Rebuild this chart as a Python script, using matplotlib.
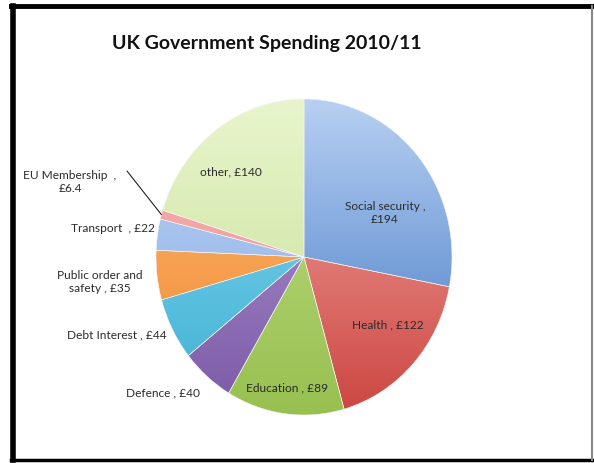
#!/usr/bin/env python3
"""UK Government Spending 2010/11 pie, Excel-style gradient slices."""
import numpy as np
import matplotlib; matplotlib.use("Agg")
import matplotlib.pyplot as plt
from matplotlib.colors import LinearSegmentedColormap
from matplotlib.lines import Line2D

plt.rcParams["font.family"] = ["Lato", "DejaVu Sans"]

categories = ["Social security", "Health", "Education", "Defence", "Debt Interest",
              "Public order and\nsafety", "Transport", "EU Membership", "other"]
spending = [194, 122, 89, 40, 44, 35, 22, 6.4, 140]
label_text = ["Social security ,\n£194", "Health , £122", "Education , £89", "Defence , £40",
              "Debt Interest , £44", "Public order and\nsafety , £35", "Transport  , £22",
              "EU Membership  ,\n£6.4", "other, £140"]

# (top colour, bottom colour) for each slice gradient
grad = [("#b8d0f2", "#3e76c4"), ("#f5aca7", "#cc4641"), ("#c0de88", "#98c050"),
        ("#b89ad6", "#7a5aa6"), ("#86d8f0", "#3fb0d4"), ("#fbb877", "#f28a2e"),
        ("#b6cff3", "#8fb0e6"), ("#f8b4b4", "#ee9090"), ("#e8f5cc", "#c6df94")]
# label positions in image pixels (x, y from top)
lab_pos = [(385, 213), (388, 325), (287, 388), (163, 393), (117, 335),
           (100, 282), (113, 229), (70, 182), (231, 172)]

W, H = 594, 464
fig = plt.figure(figsize=(W/100, H/100), dpi=100)
fig.patch.set_facecolor("white")

# pie centre ~ (304,258), rx 148, ry 158 px
cx, cy, rx, ry = 304, 258, 148, 158
ax = fig.add_axes([(cx-rx)/W, (H-cy-ry)/H, 2*rx/W, 2*ry/H])
wedges, _ = ax.pie(spending, startangle=90, counterclock=False, radius=1,
                   wedgeprops=dict(linewidth=0.4, edgecolor="#f4f4f4"))
ax.set_aspect("auto"); ax.set_xlim(-1, 1); ax.set_ylim(-1, 1); ax.axis("off")

yy = np.linspace(1, 0, 256).reshape(-1, 1)
for w, (top, bot) in zip(wedges, grad):
    cmap = LinearSegmentedColormap.from_list("g", [bot, top])
    im = ax.imshow(yy, cmap=cmap, extent=(-1, 1, -1, 1), aspect="auto", zorder=1)
    im.set_clip_path(w)
    w.set_facecolor("none"); w.set_zorder(2)
ax.set_xlim(-1, 1); ax.set_ylim(-1, 1)

for t, (x, y) in zip(label_text, lab_pos):
    fig.text(x/W, 1-y/H, t, ha="center", va="center", fontsize=8.6, color="#2b2b2b",
             linespacing=1.3)

# leader line for EU Membership
eu = wedges[7]
th = np.deg2rad((eu.theta1 + eu.theta2)/2)
ax.annotate("", xy=(np.cos(th), np.sin(th)), xycoords="data",
            xytext=(127, H-172), textcoords="figure pixels",
            arrowprops=dict(arrowstyle="-", color="#222222", lw=0.8, shrinkA=0, shrinkB=0))

fig.text(267/W, 1-44/H, "UK Government Spending 2010/11", ha="center", va="center",
         fontsize=14, fontweight="bold", color="#111111")

# chart frame
fig.add_artist(Line2D([13/W, 13/W], [1-7/H, 1-461/H], color="black", lw=4))
fig.add_artist(Line2D([11/W, 593/W], [1-7/H, 1-7/H], color="black", lw=3.5))
fig.add_artist(Line2D([11/W, 593/W], [1-461/H, 1-461/H], color="black", lw=2.5))
fig.add_artist(Line2D([592/W, 592/W], [1-7/H, 1-461/H], color="#888888", lw=1.5))

fig.savefig("out.png", dpi=100)
